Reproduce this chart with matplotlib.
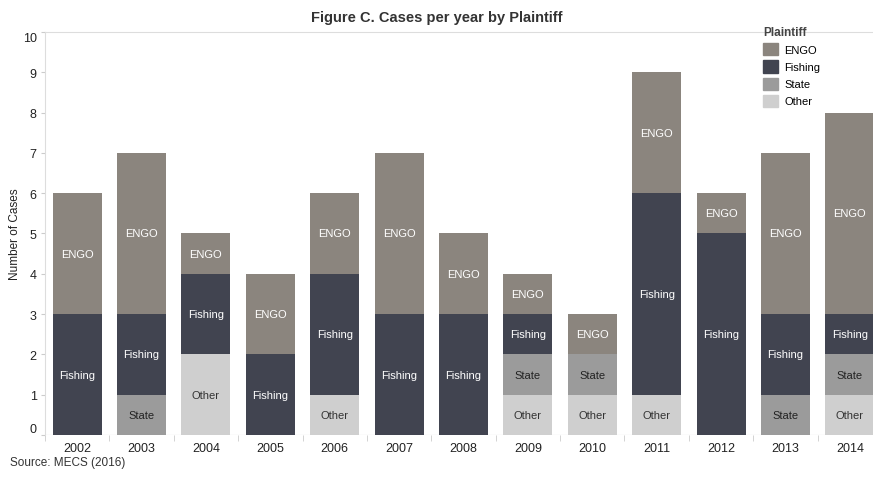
import matplotlib.pyplot as plt
import numpy as np
from matplotlib.patches import Patch

plt.rcParams['font.family'] = ['Liberation Sans', 'DejaVu Sans']

years = ['2002', '2003', '2004', '2005', '2006', '2007', '2008',
         '2009', '2010', '2011', '2012', '2013', '2014']
other = [0, 0, 2, 0, 1, 0, 0, 1, 1, 1, 0, 0, 1]
state = [0, 1, 0, 0, 0, 0, 0, 1, 1, 0, 0, 1, 1]
fishing = [3, 2, 2, 2, 3, 3, 3, 1, 0, 5, 5, 2, 1]
engo = [3, 4, 1, 2, 2, 4, 2, 1, 1, 3, 1, 4, 5]

series = [('Other', other, '#cfcfcf', '#333333'),
          ('State', state, '#9b9b9b', '#222222'),
          ('Fishing', fishing, '#414450', 'white'),
          ('ENGO', engo, '#8b857e', 'white')]

fig = plt.figure(figsize=(8.73, 4.85), dpi=100)
ax = fig.add_axes([0.0515, 0.101, 0.9485, 0.831])

x = np.arange(len(years))
bottom = np.zeros(len(years))
for name, vals, col, tcol in series:
    vals = np.array(vals, dtype=float)
    ax.bar(x, vals, 0.76, bottom=bottom, color=col, zorder=2)
    for i, v in enumerate(vals):
        if v > 0:
            ax.text(x[i], bottom[i] + v / 2, name, ha='center', va='center',
                    color=tcol, fontsize=8, zorder=3)
    bottom += vals

ax.set_xlim(-0.5, 12.36)
ax.set_ylim(0, 10)
ax.set_yticks(range(0, 11))
ax.set_xticks(x)
ax.set_xticklabels(years)
ax.set_xticks(np.arange(-0.5, 12.5, 1), minor=True)
ax.tick_params(axis='x', which='major', length=0, labelsize=9, pad=5, colors='#222222')
ax.tick_params(axis='x', which='minor', length=4, color='#cccccc')
ax.tick_params(axis='y', length=3, color='#cccccc', labelsize=9, labelcolor='#222222', pad=3)
ylabels = ax.get_yticklabels()
ylabels[0].set_va('bottom')
ylabels[-1].set_va('top')
for s in ['right', 'bottom']:
    ax.spines[s].set_visible(False)
ax.spines['left'].set_color('#dddddd')
ax.spines['top'].set_color('#dddddd')
ax.axhline(0, color='#eeeeee', lw=1, zorder=1)
ax.set_ylabel('Number of Cases', fontsize=8.5, color='#222222')
ax.yaxis.set_label_coords(-0.029, 0.5)

fig.text(0.5, 0.962, 'Figure C. Cases per year by Plaintiff', ha='center', va='center',
         fontsize=10.5, fontweight='bold', color='#333333')
fig.text(0.012, 0.046, 'Source: MECS (2016)', ha='left', va='center', fontsize=8.5, color='#333333')

handles = [Patch(color=c, label=n) for n, _, c, _ in series[::-1]]
leg = fig.legend(handles=handles, loc='upper left', bbox_to_anchor=(0.868, 0.955),
                 frameon=False, fontsize=8, title='Plaintiff', handlelength=1.3,
                 handleheight=1.3, labelspacing=0.45, handletextpad=0.6, borderpad=0)
leg.get_title().set_fontweight('bold')
leg.get_title().set_fontsize(8.5)
leg.get_title().set_color('#444444')
leg._legend_box.align = 'left'

fig.savefig('out.png', dpi=100)
